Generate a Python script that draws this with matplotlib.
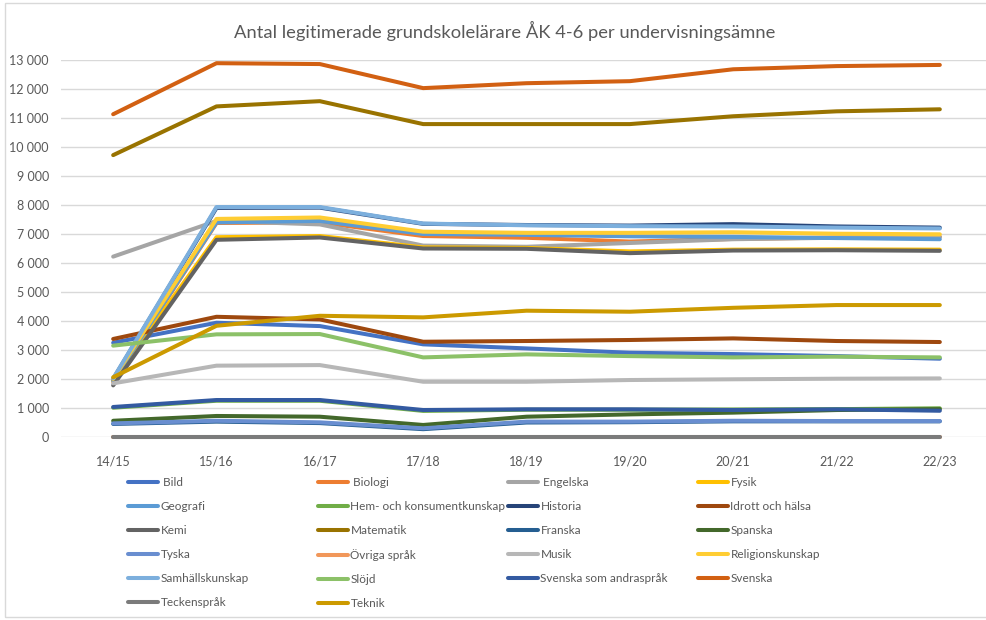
import numpy as np
import matplotlib.pyplot as plt
from matplotlib.ticker import FuncFormatter, MultipleLocator
from matplotlib.patches import Rectangle

plt.rcParams['font.family'] = ['Lato', 'DejaVu Sans']

years = ["14/15", "15/16", "16/17", "17/18", "18/19", "19/20", "20/21", "21/22", "22/23"]

# series in Excel order (later ones drawn on top)
bild = [3250, 3940, 3825, 3195, 3055, 2905, 2860, 2790, 2700]
biologi = [1900, 7380, 7400, 6930, 6870, 6740, 6830, 6880, 6900]
engelska = [6220, 7450, 7330, 6600, 6560, 6690, 6820, 6870, 6900]
fysik = [1950, 6890, 6930, 6540, 6520, 6400, 6460, 6470, 6460]
geografi = [1950, 7400, 7450, 7000, 6970, 6920, 6900, 6860, 6820]
hem = [1010, 1250, 1250, 900, 940, 940, 950, 960, 990]
historia = [2000, 7900, 7910, 7350, 7310, 7290, 7340, 7260, 7220]
idrott = [3380, 4145, 4055, 3285, 3310, 3345, 3400, 3310, 3275]
kemi = [1780, 6800, 6880, 6500, 6490, 6340, 6430, 6440, 6420]
matematik = [9720, 11400, 11580, 10790, 10790, 10790, 11060, 11230, 11300]
franska = [450, 530, 480, 270, 500, 510, 540, 540, 540]
spanska = [560, 725, 700, 415, 700, 780, 840, 930, 960]
tyska = [470, 560, 505, 300, 530, 530, 560, 550, 550]
ovriga = [0, 0, 0, 0, 0, 0, 0, 0, 0]
musik = [1850, 2460, 2480, 1905, 1905, 1965, 1990, 2010, 2020]
religion = [2000, 7520, 7570, 7080, 7040, 7040, 7060, 7010, 6990]
samhall = [2020, 7930, 7930, 7360, 7300, 7270, 7260, 7220, 7190]
slojd = [3150, 3540, 3550, 2745, 2850, 2790, 2745, 2770, 2745]
sva = [1035, 1275, 1275, 930, 955, 955, 930, 955, 905]
svenska = [11130, 12890, 12860, 12030, 12200, 12270, 12680, 12790, 12830]
tecken = [0, 0, 0, 0, 0, 0, 0, 0, 0]
teknik = [2060, 3835, 4180, 4125, 4355, 4320, 4455, 4550, 4550]

series = [
    (" Bild", bild, "#4472C4"),
    (" Biologi", biologi, "#ED7D31"),
    (" Engelska", engelska, "#A5A5A5"),
    ("Fysik", fysik, "#FFC000"),
    ("Geografi", geografi, "#5B9BD5"),
    ("Hem- och konsumentkunskap", hem, "#70AD47"),
    ("Historia", historia, "#264478"),
    ("Idrott och hälsa", idrott, "#9E480E"),
    ("Kemi", kemi, "#636363"),
    ("Matematik", matematik, "#997300"),
    ("Franska", franska, "#255E91"),
    ("Spanska", spanska, "#43682B"),
    ("Tyska", tyska, "#698ED0"),
    ("Övriga språk", ovriga, "#F1975A"),
    ("Musik", musik, "#B7B7B7"),
    ("Religionskunskap", religion, "#FFCD33"),
    ("Samhällskunskap", samhall, "#7CAFDD"),
    ("Slöjd", slojd, "#8CC168"),
    ("Svenska som andraspråk", sva, "#335AA1"),
    ("Svenska", svenska, "#D26012"),
    ("Teckenspråk", tecken, "#7B7B7B"),
    ("Teknik", teknik, "#CC9A00"),
]

fig = plt.figure(figsize=(9.87, 6.2), dpi=100)
ax = fig.add_axes([61.5 / 987, 1 - 437 / 620, 930 / 987, 377 / 620])

x = np.arange(len(years))
handles = []
for name, vals, col in series:
    ln, = ax.plot(x, vals, color=col, lw=2.9, label=name, clip_on=False,
                  solid_capstyle="round", solid_joinstyle="round", zorder=3)
    handles.append(ln)

ax.set_xlim(-0.5, len(years) - 0.5)
ax.set_ylim(0, 13000)
ax.yaxis.set_major_locator(MultipleLocator(1000))
ax.yaxis.set_major_formatter(FuncFormatter(lambda v, p: f"{int(v):,}".replace(",", " ")))
ax.set_xticks(x)
ax.set_xticklabels(years)
ax.grid(axis="y", color="#D9D9D9", lw=1.0, zorder=0)
ax.set_axisbelow(True)
for s in ax.spines.values():
    s.set_visible(False)
ax.tick_params(axis="both", length=0, colors="#595959", labelsize=9)
ax.tick_params(axis="y", pad=9)
ax.tick_params(axis="x", pad=13)
ax.patch.set_visible(False)

fig.text(505 / 987, 1 - 31 / 620, "Antal legitimerade grundskolelärare ÅK 4-6 per undervisningsämne",
         ha="center", va="center", fontsize=13.2, color="#595959")

# chart border
fig.add_artist(Rectangle((5 / 987, 3 / 620), 1.0, 614 / 620, transform=fig.transFigure,
                         fill=False, edgecolor="#D9D9D9", lw=1.0))

# legend: four columns of equal width, filled row by row
col_x = [128, 318, 508, 698]
for i, cx in enumerate(col_x):
    hs = handles[i::4]
    fig.legend(hs, [h.get_label() for h in hs], loc="upper left",
               bbox_to_anchor=(cx / 987, 1 - 477 / 620), frameon=False,
               borderpad=0, borderaxespad=0, handlelength=2.55, handletextpad=0.2,
               labelspacing=1.1, fontsize=8.5, labelcolor="#595959")

fig.savefig("out.png", dpi=100)
